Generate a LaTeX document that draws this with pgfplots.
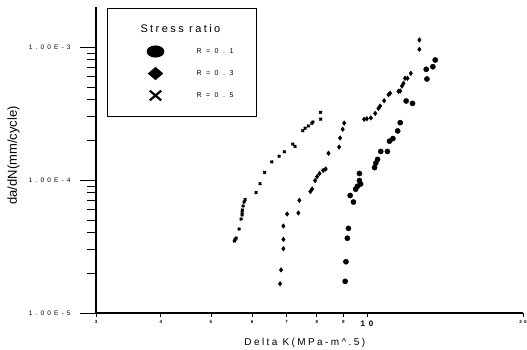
\documentclass[border=0pt]{standalone}
\usepackage{pgfplots}
\pgfplotsset{compat=1.18}
\usepackage{fontspec}
\setmainfont{Liberation Sans}
\newfontfamily\lsA{Liberation Sans}[LetterSpace=22]
\newfontfamily\lsB{Liberation Sans}[LetterSpace=65]
\newfontfamily\lsC{Liberation Sans}[LetterSpace=48]
\newfontfamily\lsD{Liberation Sans}[LetterSpace=24]
\begin{document}
\begin{tikzpicture}
\begin{axis}[
  name=ax,
  at={(0pt,0pt)}, anchor=south west,
  scale only axis, width=427pt, height=306pt,
  xmode=log, ymode=log,
  xmin=3, xmax=20, ymin=1e-5, ymax=2e-3,
  axis lines=left,
  axis line style={-, line width=1.1pt},
  tick align=outside,
  major tick length=16pt, minor tick length=9pt,
  tick style={line width=0.9pt, black},
  ytick={1e-5,1e-4,1e-3},
  yticklabels={1.00E-5,1.00E-4,1.00E-3},
  yticklabel style={font=\lsC\fontsize{6.5}{7}\selectfont, xshift=-6pt},
  xtick=\empty,
  extra x ticks={3,4,5,6,7,8,9,10,20},
  extra x tick labels={3,4,5,6,7,8,9,{\fontsize{8}{9}\selectfont\raisebox{-5pt}{10}},20},
  extra x tick style={major tick length=4pt, tick label style={font=\lsC\bfseries\fontsize{4.5}{5}\selectfont}},
  xlabel={Delta K(MPa-m\^{}.5)},
  xlabel style={font=\lsD\fontsize{10}{12}\selectfont, at={(axis description cs:0.489,-0.098)}, anchor=center},
  ylabel={da/dN(mm/cycle)},
  ylabel style={font=\fontsize{13}{15}\selectfont, at={(axis description cs:-0.193,0.515)}, anchor=center},
  legend cell align=left,
  legend image code/.code={\path[draw=none] (0pt,0pt) -- (33pt,0pt); \draw[#1] plot coordinates {(25pt,0pt)};},
  legend style={at={(axis description cs:0,1)}, anchor=north west, xshift=11pt, yshift=-1pt,
    draw=black, line width=1pt, inner xsep=23pt, inner ysep=10pt, row sep=0pt, column sep=32.7pt,
    nodes={inner sep=0pt, minimum height=22pt, font=\lsB\fontsize{7}{8}\selectfont}},
]
\addlegendimage{empty legend}
\addlegendentry{\hspace*{-56pt}{\lsA\fontsize{11}{13}\selectfont Stress ratio}}
\addlegendimage{only marks, mark=*, mark size=8.3pt, mark options={yscale=0.67, fill=black}, black}
\addlegendentry{R=0.1}
\addlegendimage{only marks, mark=diamond*, mark size=6pt, mark options={xscale=1.55, fill=black}, black}
\addlegendentry{R=0.3}
\addlegendimage{only marks, mark=x, mark size=8pt, mark options={line width=2.2pt, yscale=0.85}, black}
\addlegendentry{R=0.5}

% R = 0.1 (circles)
\addplot[forget plot, only marks, mark=*, mark size=2.6pt, black] coordinates {
(9.075,1.73e-5) (9.107,2.43e-5) (9.163,3.65e-5) (9.209,4.33e-5)
(9.278,7.65e-5) (9.414,6.83e-5) (9.508,8.53e-5) (9.583,8.97e-5)
(9.721,9.33e-5) (9.669,9.91e-5) (9.669,1.12e-4) (10.34,1.24e-4)
(10.40,1.34e-4) (10.48,1.43e-4) (10.63,1.64e-4) (10.95,1.64e-4)
(11.05,1.96e-4) (11.22,2.05e-4) (11.46,2.34e-4) (11.59,2.70e-4)
(11.90,3.93e-4) (12.24,3.77e-4) (13.05,5.75e-4) (13.01,6.80e-4)
(13.40,7.11e-4) (13.54,7.99e-4)
};
% R = 0.3 (diamonds)
\addplot[forget plot, only marks, mark=diamond*, mark size=2.3pt, black] coordinates {
(6.797,1.66e-5) (6.827,2.11e-5) (6.898,3.04e-5) (6.898,3.58e-5)
(6.898,4.51e-5) (7.012,5.55e-5) (7.372,5.65e-5) (7.405,7.04e-5)
(7.778,8.20e-5) (7.837,8.56e-5) (7.943,9.91e-5) (8.013,1.06e-4)
(8.096,1.12e-4) (8.230,1.18e-4) (8.323,1.21e-4) (8.427,1.59e-4)
(8.837,1.77e-4) (8.875,2.07e-4) (8.976,2.41e-4) (9.036,2.68e-4)
(9.874,2.86e-4) (9.993,2.89e-4) (10.17,2.93e-4) (10.37,3.17e-4)
(10.52,3.46e-4) (10.60,3.60e-4) (10.79,3.95e-4) (11.00,4.38e-4)
(11.08,4.49e-4) (11.50,4.65e-4) (11.59,4.67e-4) (11.68,5.09e-4)
(11.76,5.34e-4) (11.84,5.82e-4) (11.97,5.82e-4) (12.15,6.34e-4)
(12.62,9.61e-4) (12.62,1.13e-3)
};
% R = 0.5 (crosses)
\addplot[forget plot, only marks, mark=x, mark size=1.8pt, mark options={line width=1.4pt}, black] coordinates {
(5.549,3.48e-5) (5.566,3.57e-5) (5.591,3.66e-5) (5.666,4.28e-5)
(5.715,5.09e-5) (5.741,5.46e-5) (5.741,5.70e-5) (5.749,5.95e-5)
(5.767,6.38e-5) (5.792,6.83e-5) (5.818,7.13e-5) (6.109,8.05e-5)
(6.218,9.38e-5) (6.344,1.14e-4) (6.550,1.37e-4) (6.767,1.51e-4)
(6.928,1.63e-4) (7.192,1.86e-4) (7.266,1.79e-4) (7.518,2.35e-4)
(7.597,2.45e-4) (7.708,2.55e-4) (7.826,2.67e-4) (7.861,2.73e-4)
(8.139,2.87e-4) (8.135,3.23e-4)
};
\end{axis}
\pgfresetboundingbox
\path[use as bounding box] (ax.south west) ++(-96pt,-37pt) rectangle ++(527pt,350pt);
\end{tikzpicture}
\end{document}
